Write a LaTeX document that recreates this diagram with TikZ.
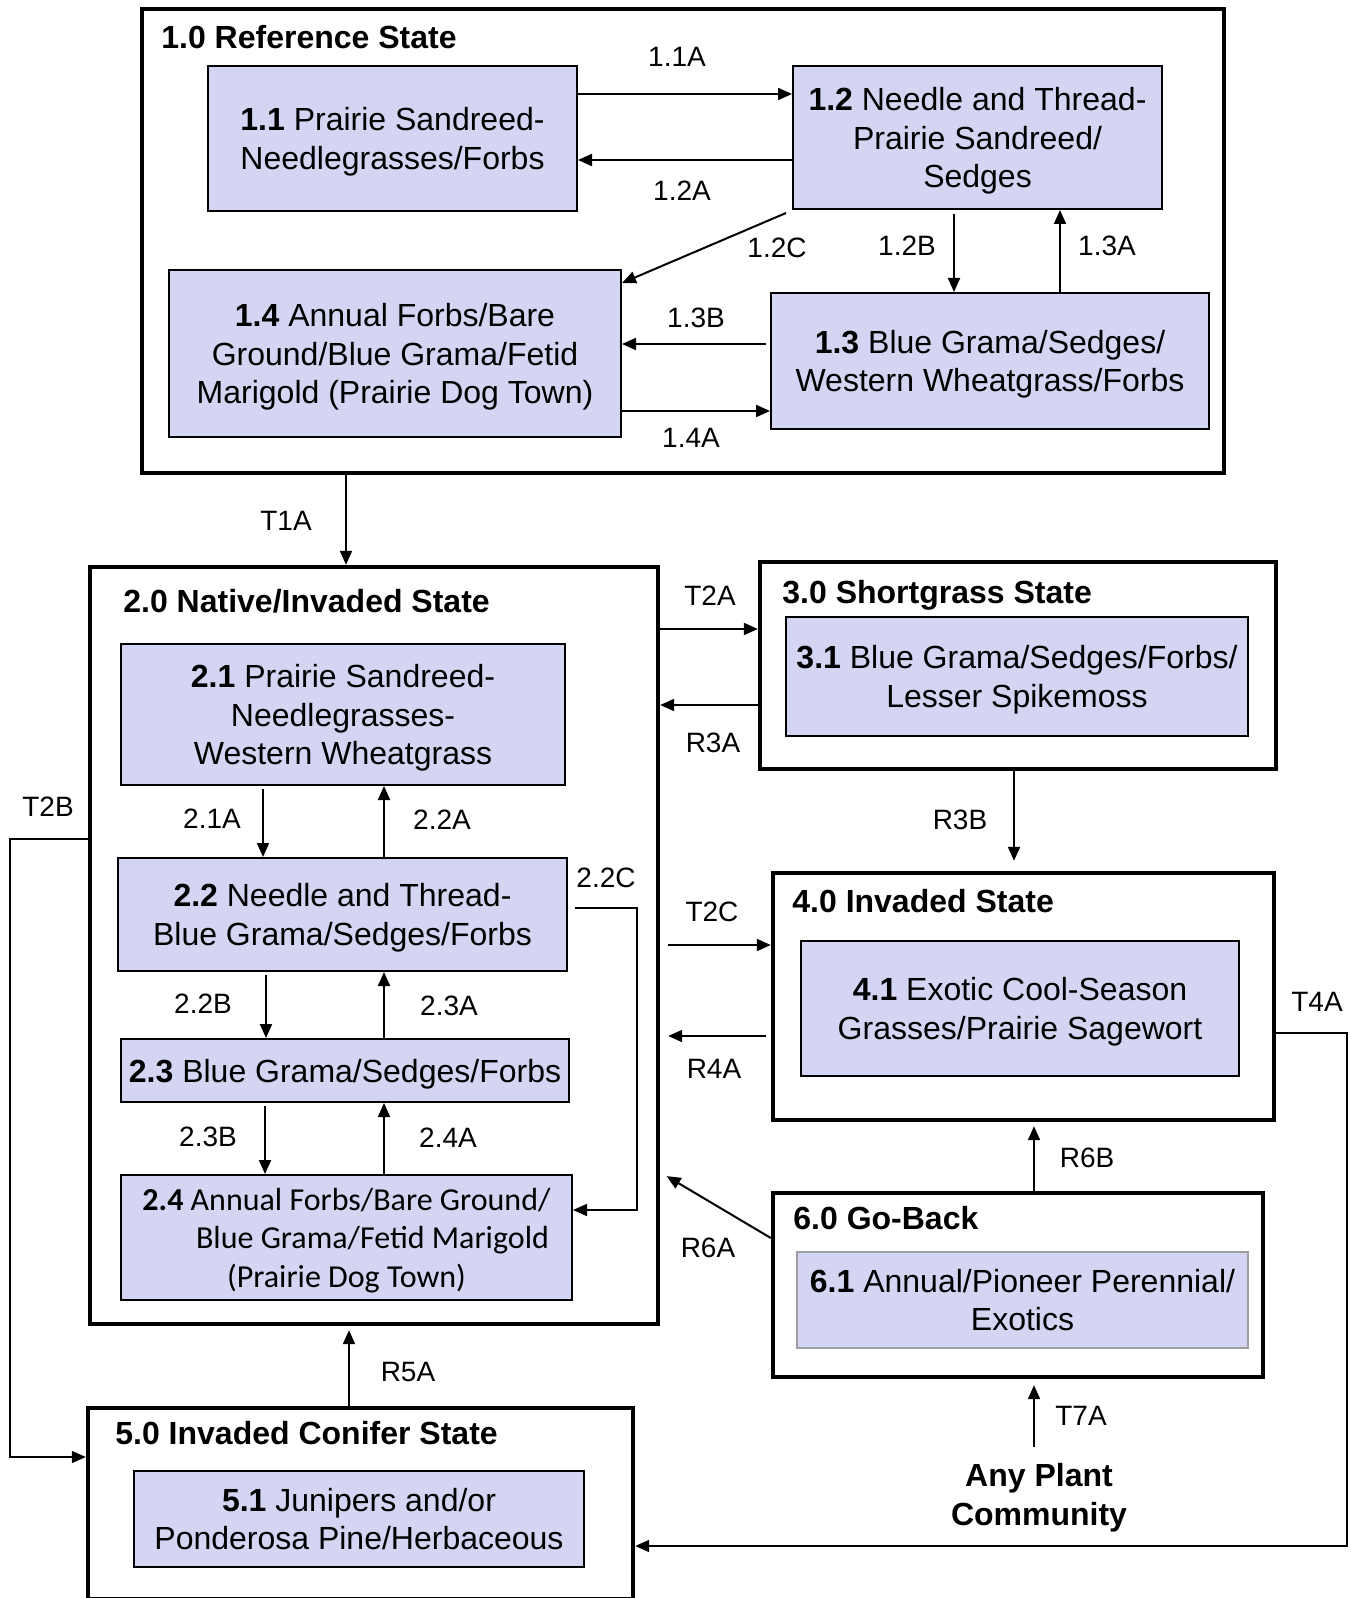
\documentclass[tikz,border=0pt]{standalone}
\usepackage{fontspec}
\setmainfont{Liberation Sans}
\newfontfamily\calibri{Carlito}
\usetikzlibrary{arrows.meta}
\definecolor{boxfill}{RGB}{212,212,243}
\begin{document}
\begin{tikzpicture}[x=0.5pt,y=-0.5pt,
  statebox/.style={draw, line width=2.2pt, inner sep=0pt},
  phasebox/.style={draw, line width=1pt, fill=boxfill, inner sep=0pt, text depth=0pt, align=center, font=\fontsize{16}{19.3}\selectfont},
  titletext/.style={anchor=base west, inner sep=0pt, font=\fontsize{16}{19}\selectfont\bfseries},
  lbl/.style={anchor=center, inner sep=0pt, font=\fontsize{14}{16}\selectfont},
  arr/.style={line width=1pt, -{Triangle[length=7pt,width=6pt]}},
  thinarr/.style={line width=0.75pt, -{Triangle[length=7pt,width=6pt]}},
  sz/.style 2 args={minimum width=#1, minimum height=#2},
]
\useasboundingbox (0,0) rectangle (1350,1598);
\clip (0,0) rectangle (1350,1598);
\fill[white] (0,0) rectangle (1350,1598);

% ---------- 1.0 ----------
\node[statebox, sz={541pt}{232pt}] (s1) at (683,241) {};
\node[titletext] (t1) at (161,48.5) {1.0 Reference State};
\node[phasebox, sz={184.5pt}{72.5pt}] (n11) at (392.5,138.5) {\textbf{1.1} Prairie Sandreed-\\Needlegrasses/Forbs};
\node[phasebox, sz={184.5pt}{71.5pt}] (n12) at (977.5,137.5) {\textbf{1.2} Needle and Thread-\\Prairie Sandreed/\\Sedges};
\node[phasebox, sz={226pt}{83.5pt}] (n14) at (395,353.5) {\textbf{1.4} Annual Forbs/Bare\\Ground/Blue Grama/Fetid\\Marigold (Prairie Dog Town)};
\node[phasebox, sz={219pt}{68pt}] (n13) at (990,361) {\textbf{1.3} Blue Grama/Sedges/\\Western Wheatgrass/Forbs};

\draw[arr] (n11.east |- 0,94) -- (n12.west |- 0,94);
\draw[arr] (n12.west |- 0,160) -- (n11.east |- 0,160);
\draw[arr] (n12.south west) ++(-6,3) -- (n14.east |- 0,283);
\draw[arr, shorten <=2pt] (954,0 |- n12.south) -- (954,0 |- n13.north);
\draw[arr] (1060,0 |- n13.north) -- (1060,0 |- n12.south);
\draw[arr, shorten <=2pt] (n13.west |- 0,344) -- (n14.east |- 0,344);
\draw[arr] (n14.east |- 0,411) -- (n13.west |- 0,411);

\node[lbl] (l11a) at (677,57) {1.1A};
\node[lbl] (l12a) at (682,191) {1.2A};
\node[lbl] (l12c) at (777,248) {1.2C};
\node[lbl] (l12b) at (907,246) {1.2B};
\node[lbl] (l13a) at (1107,246) {1.3A};
\node[lbl] (l13b) at (696,318) {1.3B};
\node[lbl] (l14a) at (691,438) {1.4A};

% ---------- 2.0 ----------
\node[statebox, sz={284pt}{378.5pt}] (s2) at (374,945.5) {};
\node[titletext] (t2) at (123,612.5) {2.0 Native/Invaded State};
\node[phasebox, sz={222pt}{70.5pt}] (n21) at (343,714.5) {\textbf{2.1} Prairie Sandreed-\\Needlegrasses-\\Western Wheatgrass};
\node[phasebox, sz={224.5pt}{56.5pt}] (n22) at (342.5,914.5) {\textbf{2.2} Needle and Thread-\\Blue Grama/Sedges/Forbs};
\node[phasebox, sz={224pt}{31.5pt}] (n23) at (345,1070.5) {\textbf{2.3} Blue Grama/Sedges/Forbs};
\node[phasebox, sz={225.5pt}{62.5pt}, font=\calibri\fontsize{16}{19.3}\selectfont] (n24) at (346.5,1237.5) {\textbf{2.4} Annual Forbs/Bare Ground/\\\hspace*{26pt}Blue Grama/Fetid Marigold\\(Prairie Dog Town)};

\draw[arr, shorten <=1.5pt] (263,0 |- n21.south) -- (263,0 |- n22.north);
\draw[arr] (384,0 |- n22.north) -- (384,0 |- n21.south);
\draw[arr, shorten <=1.5pt] (266,0 |- n22.south) -- (266,0 |- n23.north);
\draw[arr] (384,0 |- n23.north) -- (384,0 |- n22.south);
\draw[arr, shorten <=1.5pt] (265,0 |- n23.south) -- (265,0 |- n24.north);
\draw[arr] (384,0 |- n24.north) -- (384,0 |- n23.south);
\draw[thinarr, shorten <=3.5pt] (n22.east |- 0,908) -- (637,908) -- (637,1210) -- (n24.east |- 0,1210);

\node[lbl] (l21a) at (212,819) {2.1A};
\node[lbl] (l22a) at (442,820) {2.2A};
\node[lbl] (l22b) at (203,1004) {2.2B};
\node[lbl] (l23a) at (449,1006) {2.3A};
\node[lbl] (l23b) at (208,1137) {2.3B};
\node[lbl] (l24a) at (448,1138) {2.4A};
\node[lbl] (l22c) at (606,878) {2.2C};

% ---------- 3.0 ----------
\node[statebox, sz={258pt}{103.5pt}] (s3) at (1018,665.5) {};
\node[titletext] (t3) at (782,603.5) {3.0 Shortgrass State};
\node[phasebox, sz={231pt}{59.5pt}] (n31) at (1017,676.5) {\textbf{3.1} Blue Grama/Sedges/Forbs/\\Lesser Spikemoss};

% ---------- 4.0 ----------
\node[statebox, sz={250.5pt}{123.5pt}] (s4) at (1023.5,996.5) {};
\node[titletext] (t4) at (792,912.5) {4.0 Invaded State};
\node[phasebox, sz={219pt}{67.5pt}] (n41) at (1020,1008.5) {\textbf{4.1} Exotic Cool-Season\\Grasses/Prairie Sagewort};

% ---------- 6.0 ----------
\node[statebox, sz={245pt}{92pt}] (s6) at (1018,1285) {};
\node[titletext] (t6) at (793,1229.5) {6.0 Go-Back};
\node[phasebox, draw=gray!75, sz={225.5pt}{48pt}] (n61) at (1022.5,1300) {\textbf{6.1} Annual/Pioneer Perennial/\\Exotics};

% ---------- 5.0 ----------
\node[statebox, sz={272.5pt}{95.75pt}] (s5) at (360.5,1503.75) {};
\node[titletext] (t5) at (115,1444.5) {5.0 Invaded Conifer State};
\node[phasebox, sz={225pt}{48pt}] (n51) at (359,1519) {\textbf{5.1} Junipers and/or\\Ponderosa Pine/Herbaceous};

% ---------- Any plant community ----------
\node[anchor=base, align=center, inner sep=8pt, font=\fontsize{16}{19.3}\selectfont\bfseries] (any) at (1039,1525.5) {Any Plant\\Community};

% ---------- transitions between states ----------
\draw[arr] (346,0 |- s1.south) -- (346,0 |- s2.north);
\draw[arr] (s2.east |- 0,629) -- (s3.west |- 0,629);
\draw[arr] (s3.west |- 0,705) -- (s2.east |- 0,705);
\draw[arr, shorten >=5pt] (1014,0 |- s3.south) -- (1014,0 |- s4.north);
\draw[arr, shorten <=4pt] (s2.east |- 0,945) -- (s4.west |- 0,945);
\draw[arr, shorten <=2.5pt, shorten >=4pt] (s4.west |- 0,1036) -- (s2.east |- 0,1036);
\draw[arr, shorten >=2pt] (1034,0 |- s6.north) -- (1034,0 |- s4.south);
\draw[arr, shorten >=5pt] (s6.west |- 0,1238) -- (658,1171);
\draw[arr, shorten >=3pt] (1034,0 |- any.north) -- (1034,0 |- s6.south);
\draw[arr, shorten >=2pt] (349,0 |- s5.north) -- (349,0 |- s2.south);
\draw[thinarr] (s2.west |- 0,839) -- (10,839) -- (10,1457) -- (s5.west |- 0,1457);
\draw[thinarr] (s4.east |- 0,1033) -- (1347,1033) -- (1347,1546) -- (s5.east |- 0,1546);

\node[lbl] (lt1a) at (286,521) {T1A};
\node[lbl] (lt2a) at (710,596) {T2A};
\node[lbl] (lr3a) at (713,743) {R3A};
\node[lbl] (lr3b) at (960,820) {R3B};
\node[lbl] (lt2b) at (48,807) {T2B};
\node[lbl] (lt2c) at (712,912) {T2C};
\node[lbl] (lr4a) at (714,1069) {R4A};
\node[lbl] (lt4a) at (1317,1002) {T4A};
\node[lbl] (lr6b) at (1087,1158) {R6B};
\node[lbl] (lr6a) at (708,1248) {R6A};
\node[lbl] (lt7a) at (1081,1416) {T7A};
\node[lbl] (lr5a) at (408,1372) {R5A};
\end{tikzpicture}
\end{document}
